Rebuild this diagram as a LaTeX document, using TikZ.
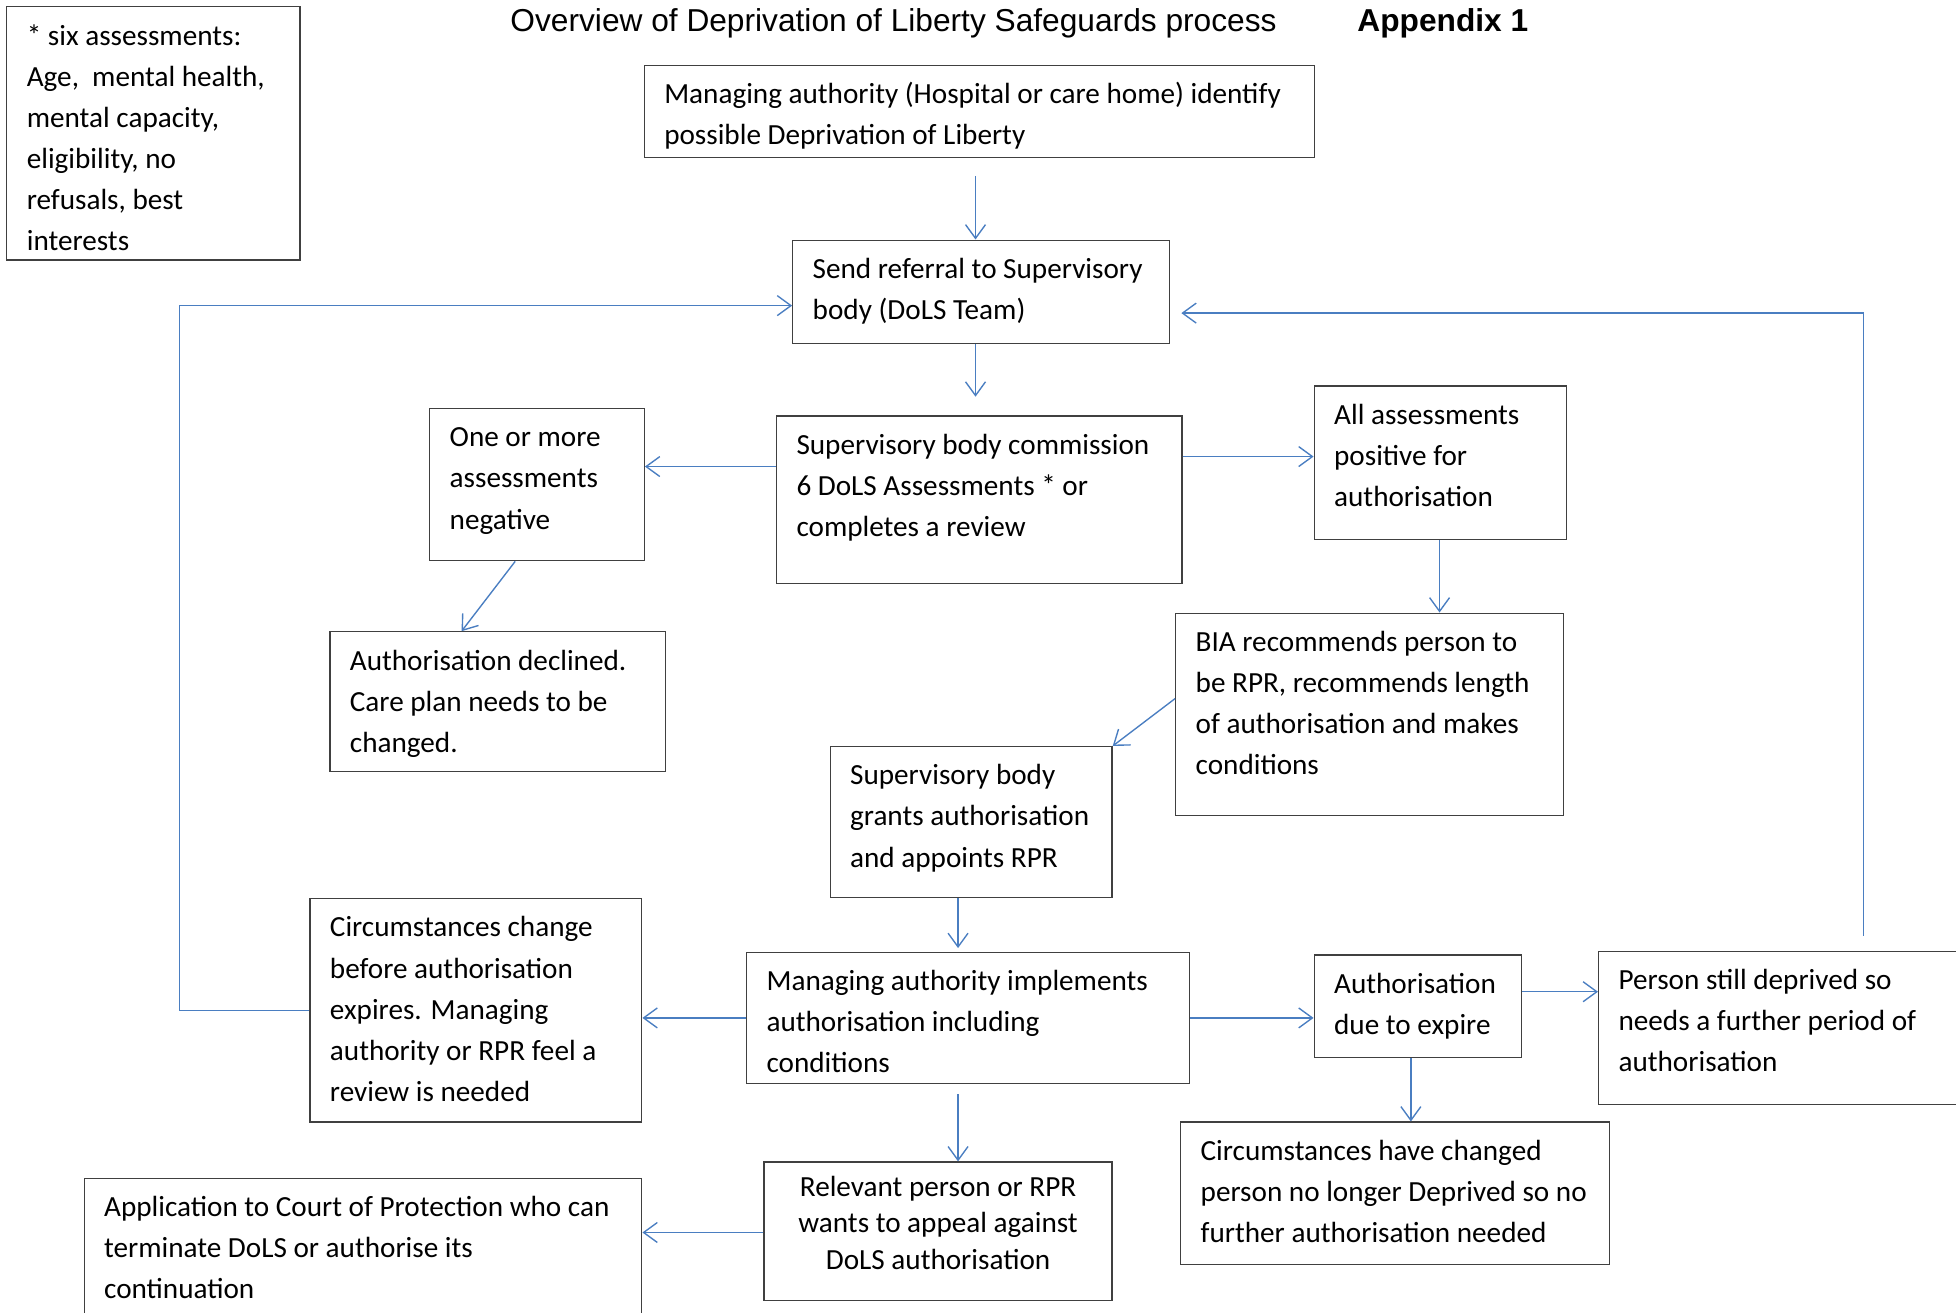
\documentclass[tikz,border=0pt]{standalone}
\usepackage{fontspec}
\setmainfont{Carlito}
\newfontfamily\titlefont{Liberation Sans}
\usetikzlibrary{arrows.meta}
\definecolor{arrowblue}{RGB}{74,126,193}
% text block of a box: width, height, lines
\newcommand{\boxtext}[3]{\makebox[#1][l]{\parbox[c][#2][t]{\dimexpr#1+60pt}{\raggedright\strut #3}}}
\newcommand{\boxtextc}[3]{\parbox[c][#2][t]{#1}{\centering\strut #3}}
\tikzset{
	stepbox/.style={draw=black!75, line width=1pt, anchor=north west, inner xsep=16pt, inner ysep=7.5pt, font=\fontsize{23.4}{33}\selectfont},
	link/.style={draw=arrowblue, line width=1.1pt, -{Straight Barb[length=11pt,width=16pt]}},
	heading/.style={anchor=base west, inner sep=0pt, font=\titlefont\fontsize{25.4}{30}\selectfont}
}
\begin{document}
\begin{tikzpicture}[x=1pt,y=-1pt]
	\clip (0,0) rectangle (1568,1052);
	\node[heading] (title) at (409,25) {Overview of Deprivation of Liberty Safeguards process};
	\node[heading, font=\titlefont\bfseries\fontsize{25.4}{30}\selectfont] (appendix) at (1088,25) {Appendix 1};
	\node[stepbox] (six) at (5,5) {\boxtext{203pt}{188pt}{* six assessments:\\ Age,~ mental health,\\ mental capacity,\\ eligibility, no\\ refusals, best\\ interests}};
	\node[stepbox] (identify) at (516,52) {\boxtext{505pt}{59pt}{Managing authority (Hospital or care home) identify\\ possible Deprivation of Liberty}};
	\node[stepbox] (referral) at (635,192) {\boxtext{270pt}{68pt}{Send referral to Supervisory\\ body (DoLS Team)}};
	\node[stepbox] (commission) at (622,333) {\boxtext{293pt}{119pt}{Supervisory body commission\\ 6 DoLS Assessments * or\\ completes a review}};
	\node[stepbox] (negative) at (344,327) {\boxtext{140pt}{107pt}{One or more\\ assessments\\ negative}};
	\node[stepbox] (positive) at (1053,309) {\boxtext{170pt}{108pt}{All assessments\\ positive for\\ authorisation}};
	\node[stepbox] (declined) at (264,506) {\boxtext{237pt}{97pt}{Authorisation declined.\\ Care plan needs to be\\ changed.}};
	\node[stepbox] (bia) at (942,491) {\boxtext{279pt}{147pt}{BIA recommends person to\\ be RPR, recommends length\\ of authorisation and makes\\ conditions}};
	\node[stepbox] (grants) at (665,598) {\boxtext{194pt}{106pt}{Supervisory body\\ grants authorisation\\ and appoints RPR}};
	\node[stepbox] (change) at (248,720) {\boxtext{234pt}{164pt}{Circumstances change\\ before authorisation\\ expires. Managing\\ authority or RPR feel a\\ review is needed}};
	\node[stepbox] (implements) at (598,763) {\boxtext{323pt}{90pt}{Managing authority implements\\ authorisation including\\ conditions}};
	\node[stepbox] (expire) at (1053,765) {\boxtext{134pt}{67pt}{Authorisation\\ due to expire}};
	\node[stepbox] (further) at (1281,762) {\boxtext{268pt}{108pt}{Person still deprived so\\ needs a further period of\\ authorisation}};
	\node[stepbox] (changed) at (946,899) {\boxtext{312pt}{99pt}{Circumstances have changed\\ person no longer Deprived so no\\ further authorisation needed}};
	\node[stepbox, font=\fontsize{23.4}{29}\selectfont] (appeal) at (612,931) {\boxtextc{247pt}{96pt}{Relevant person or RPR\\ wants to appeal against\\ DoLS authorisation}};
	\node[stepbox] (court) at (67,944) {\boxtext{415pt}{100pt}{Application to Court of Protection who can\\ terminate DoLS or authorise its\\ continuation}};
	% connectors
	\draw[link, shorten <=14pt] (identify.south -| 782,0) -- (referral.north -| 782,0);
	\draw[link, shorten >=15pt] (referral.south -| 782,0) -- (commission.north -| 782,0);
	\draw[link] (commission.west |- 0,374) -- (negative.east |- 0,374);
	\draw[link] (commission.east |- 0,366) -- (positive.west |- 0,366);
	\draw[link] (negative.south -| 413,0) -- (declined.north -| 370,0);
	\draw[link] (positive.south -| 1154,0) -- (bia.north -| 1154,0);
	\draw[link] (bia.west |- 0,560) -- (grants.north east);
	\draw[link, shorten >=3pt] (grants.south -| 768,0) -- (implements.north -| 768,0);
	\draw[link] (implements.west |- 0,816) -- (change.east |- 0,816);
	\draw[link] (implements.east |- 0,816) -- (expire.west |- 0,816);
	\draw[link] (expire.east |- 0,795) -- (further.west |- 0,795);
	\draw[link] (expire.south -| 1131,0) -- (changed.north -| 1131,0);
	\draw[link, shorten <=8pt] (implements.south -| 768,0) -- (appeal.north -| 768,0);
	\draw[link] (appeal.west |- 0,988) -- (court.east |- 0,988);
	\draw[link] (change.west) -- ++(-104,0) |- (referral.west |- 0,245);
	\draw[link, shorten <=12pt, shorten >=9pt] (further.north -| 1494,0) |- (referral.east |- 0,251);
\end{tikzpicture}
\end{document}
